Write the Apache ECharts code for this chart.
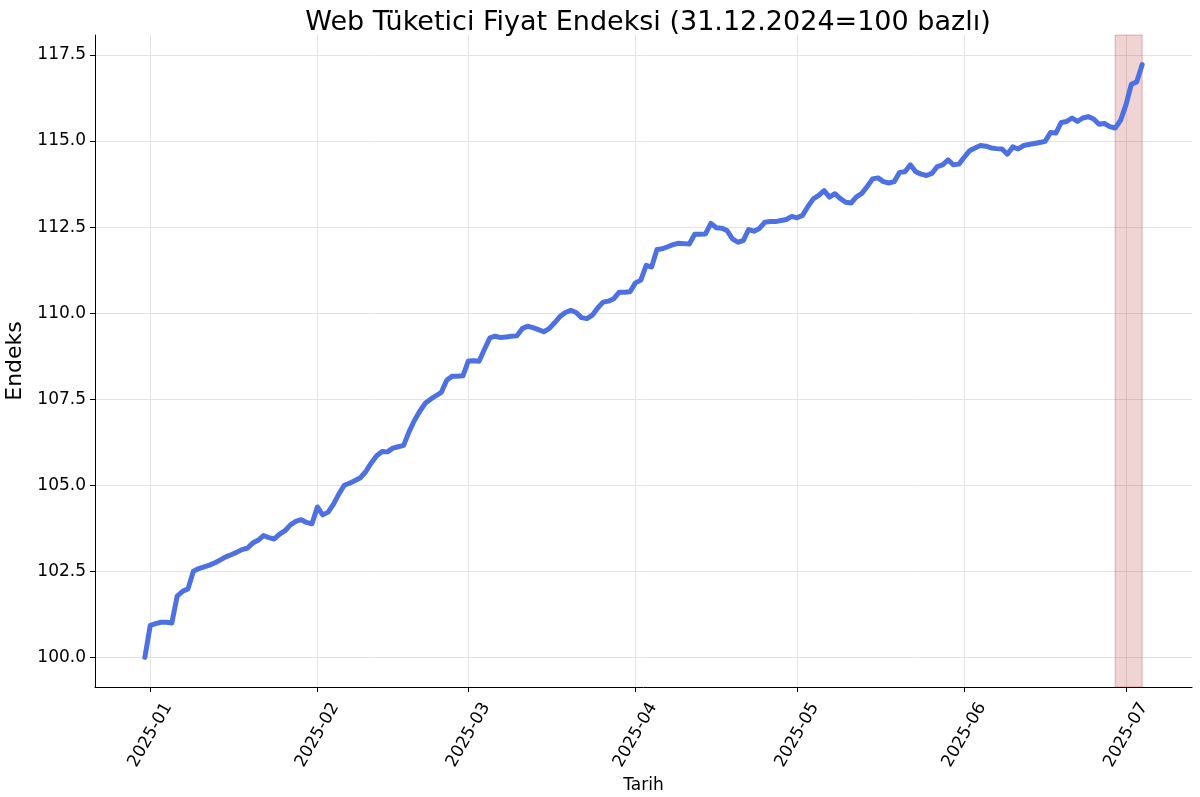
<!DOCTYPE html>
<html><head><meta charset="utf-8">
<script src="https://cdn.jsdelivr.net/npm/echarts@6/dist/echarts.min.js"></script>
<style>html,body{margin:0;padding:0;background:#fff}#c{width:1200px;height:797px}</style>
</head><body><div id="c"></div>
<script>
const titleText = 'Web Tüketici Fiyat Endeksi (31.12.2024=100 bazlı)';
const startDate = '2024-12-31';
const values = [
100.00,
100.93,100.98,101.02,101.02,101.00,101.78,101.92,101.99,102.50,102.58,
102.63,102.68,102.75,102.83,102.92,102.98,103.05,103.13,103.17,103.32,
103.40,103.54,103.48,103.44,103.58,103.68,103.85,103.95,104.00,103.92,103.88,
104.37,104.14,104.22,104.45,104.75,105.00,105.06,105.14,105.22,105.40,
105.65,105.86,105.98,105.97,106.08,106.12,106.16,106.55,106.88,107.15,
107.38,107.50,107.60,107.70,108.05,108.17,108.17,108.18,
108.61,108.62,108.60,108.95,109.28,109.33,109.29,109.31,109.33,109.34,
109.55,109.62,109.58,109.52,109.46,109.55,109.72,109.90,110.02,110.08,
110.02,109.87,109.84,109.94,110.15,110.32,110.35,110.42,110.61,110.61,110.62,
110.88,110.96,111.39,111.34,111.85,111.87,111.93,111.99,112.03,112.02,
112.01,112.29,112.29,112.30,112.61,112.48,112.47,112.40,112.16,112.06,
112.11,112.43,112.38,112.46,112.64,112.66,112.66,112.69,112.72,112.81,
112.77,112.84,113.10,113.32,113.42,113.56,113.37,113.47,113.33,113.22,
113.20,113.38,113.48,113.68,113.90,113.93,113.82,113.78,113.82,114.09,
114.11,114.31,114.11,114.04,114.00,114.06,114.26,114.31,114.45,114.31,114.33,
114.53,114.72,114.80,114.87,114.85,114.80,114.78,114.77,114.62,114.83,
114.77,114.87,114.90,114.93,114.96,114.99,115.25,115.23,115.54,115.57,
115.67,115.57,115.67,115.71,115.64,115.49,115.51,115.42,115.38,115.60,
116.05,116.65,116.72,117.22
];
const monthTicks = ['2025-01-01','2025-02-01','2025-03-01','2025-04-01','2025-05-01','2025-06-01','2025-07-01'];
const yTicks = [100.0,102.5,105.0,107.5,110.0,112.5,115.0,117.5];
const shadeRange = ['2025-06-29','2025-07-04'];

const DAY = 86400000;
const ts = s => Date.parse(s + 'T00:00:00Z');
const t0 = ts(startDate);
const data = values.map((v,i)=>[t0 + i*DAY, v]);
const tFirst = data[0][0], tLast = data[data.length-1][0];
const xPad = (tLast - tFirst)*0.05;
const vMin = Math.min(...values), vMax = Math.max(...values);
const yPad = (vMax - vMin)*0.05;
const pad2 = n => (n<10?'0':'')+n;

const chart = echarts.init(document.getElementById('c'), null, {renderer:'canvas'});
chart.setOption({
  animation:false,
  backgroundColor:'#fff',
  title:{text:titleText,left:643,textAlign:'center',top:4,textStyle:{fontFamily:'DejaVu Sans',fontSize:27,fontWeight:'normal',color:'#000'}},
  grid:{left:95,right:8,top:35,bottom:110,containLabel:false,outerBoundsMode:'none'},
  xAxis:{
    type:'value', min:tFirst - xPad, max:tLast + xPad,
    name:'Tarih', nameLocation:'middle', nameGap:85,
    nameTextStyle:{fontFamily:'DejaVu Sans',fontSize:17,color:'#000'},
    axisLine:{show:true,onZero:false,lineStyle:{color:'#000',width:1}},
    axisTick:{show:true,length:5,lineStyle:{color:'#000'},customValues:monthTicks.map(ts)},
    axisLabel:{customValues:monthTicks.map(ts),rotate:60,margin:48,align:'center',verticalAlign:'middle',
      fontFamily:'DejaVu Sans',fontSize:17,color:'#000',
      formatter:v=>{const d=new Date(v);return d.getUTCFullYear()+'-'+pad2(d.getUTCMonth()+1);}},
    splitLine:{show:true,lineStyle:{color:'#e3e3e3',width:1}}
  },
  yAxis:{
    type:'value', min:vMin - yPad, max:vMax + yPad,
    name:'Endeks', nameLocation:'middle', nameGap:60, nameRotate:90,
    nameTextStyle:{fontFamily:'DejaVu Sans',fontSize:22,color:'#000'},
    axisLine:{show:true,lineStyle:{color:'#000',width:1}},
    axisTick:{show:true,length:5,lineStyle:{color:'#000'},customValues:yTicks},
    axisLabel:{customValues:yTicks,margin:9,fontFamily:'DejaVu Sans',fontSize:17,color:'#000',formatter:v=>v.toFixed(1)},
    splitLine:{show:true,lineStyle:{color:'#e3e3e3',width:1}}
  },
  series:[{
    type:'line', data:data, showSymbol:false, smooth:false,
    lineStyle:{color:'#4d70e3',width:5,cap:'round',join:'round'},
    itemStyle:{color:'#4d70e3'},
    markArea:{silent:true,itemStyle:{color:'rgba(178,34,34,0.2)',borderColor:'rgba(178,34,34,0.3)',borderWidth:1},
      data:[[{xAxis:ts(shadeRange[0])},{xAxis:ts(shadeRange[1])}]]}
  }]
});
</script></body></html>
